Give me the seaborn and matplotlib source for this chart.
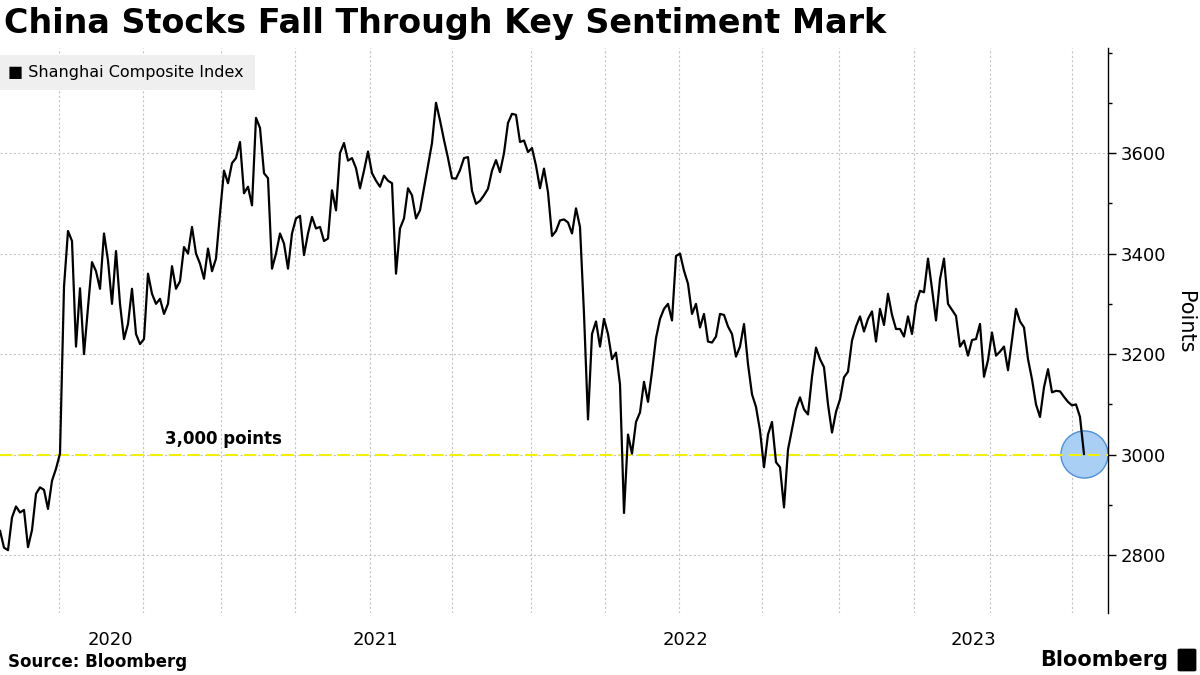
import numpy as np
import pandas as pd
import matplotlib
matplotlib.use('Agg')
import matplotlib.pyplot as plt
from matplotlib.patches import Rectangle, FancyBboxPatch
import seaborn as sns

# Shanghai Composite Index close, every 3rd trading session
# (late Apr 2020 -> Oct 2023)
index_values = [
    2849, 2815, 2810, 2875, 2897, 2885, 2890, 2816, 2850, 2922,
    2935, 2930, 2892, 2948, 2972, 3002, 3334, 3445, 3425, 3215,
    3331, 3200, 3293, 3383, 3365, 3330, 3440, 3386, 3300, 3405,
    3300, 3230, 3260, 3330, 3240, 3220, 3230, 3360, 3320, 3300,
    3310, 3280, 3300, 3375, 3330, 3345, 3413, 3400, 3453, 3400,
    3380, 3350, 3410, 3365, 3390, 3480, 3565, 3540, 3580, 3590,
    3622, 3520, 3533, 3496, 3670, 3650, 3560, 3550, 3370, 3400,
    3440, 3420, 3370, 3440, 3470, 3475, 3397, 3440, 3473, 3450,
    3453, 3425, 3430, 3526, 3486, 3600, 3620, 3585, 3590, 3570,
    3530, 3565, 3603, 3560, 3545, 3533, 3555, 3545, 3540, 3360,
    3450, 3470, 3530, 3516, 3470, 3486, 3530, 3575, 3620, 3700,
    3665, 3626, 3590, 3550, 3549, 3566, 3590, 3592, 3525, 3499,
    3505, 3516, 3529, 3565, 3586, 3562, 3600, 3660, 3678, 3676,
    3622, 3625, 3602, 3610, 3575, 3530, 3569, 3522, 3435, 3445,
    3466, 3468, 3462, 3440, 3490, 3453, 3280, 3070, 3240, 3265,
    3215, 3270, 3240, 3190, 3203, 3140, 2884, 3040, 3002, 3065,
    3084, 3145, 3105, 3165, 3232, 3270, 3290, 3300, 3267, 3395,
    3400, 3366, 3340, 3280, 3300, 3253, 3280, 3225, 3223, 3235,
    3280, 3278, 3255, 3240, 3195, 3215, 3260, 3180, 3120, 3095,
    3048, 2975, 3040, 3065, 2985, 2975, 2895, 3010, 3050, 3091,
    3114, 3090, 3080, 3155, 3213, 3190, 3174, 3100, 3044, 3085,
    3110, 3154, 3165, 3227, 3255, 3275, 3245, 3270, 3285, 3225,
    3290, 3258, 3320, 3278, 3250, 3250, 3235, 3275, 3240, 3300,
    3326, 3323, 3390, 3330, 3267, 3349, 3390, 3300, 3288, 3276,
    3215, 3227, 3197, 3228, 3230, 3260, 3155, 3188, 3243, 3197,
    3205, 3215, 3168, 3228, 3290, 3265, 3253, 3190, 3150, 3100,
    3075, 3134, 3170, 3124, 3127, 3126, 3115, 3105, 3098, 3100,
    3075, 3001,
]
SESSION_STEP = 3

# session positions of quarter starts, Jul 2020 .. Oct 2023
quarter_starts = [44.5, 107.5, 165.5, 221.25, 277.7, 339.2, 398.0,
                  453.4, 509.5, 571.7, 629.5, 685.7, 742.7, 803.8]
year_labels = ['2020', '2021', '2022', '2023']
year_starts = [165.5, 398.0, 629.5]   # Jan 2021, Jan 2022, Jan 2023
x_range = (0, 831)
y_range = (2685, 3809)

y_ticks = [2800, 3000, 3200, 3400, 3600]
y_minor = [2900, 3100, 3300, 3500, 3700, 3800]
threshold = 3000
threshold_label = '3,000 points'

df = pd.DataFrame({
    'session': np.arange(len(index_values)) * SESSION_STEP,
    'close': index_values,
})

sns.set_theme(style='white')
plt.rcParams['font.family'] = ['DejaVu Sans']
plt.rcParams['text.color'] = 'black'

fig = plt.figure(figsize=(12, 6.75), dpi=100)
ax = fig.add_axes([0, 62 / 675, 1108 / 1200, 565 / 675])

grid_kw = dict(color='#c4c4c4', lw=0.8, ls=(0, (2, 2)))

# threshold line + marker circle at the last close
ax.axhline(threshold, color='#f0f000', lw=1.5, ls=(0, (6, 3)), zorder=3)
ax.scatter([df['session'].iloc[-1]], [df['close'].iloc[-1]], s=1150,
           facecolor='#a9cff5', edgecolor='#4d90dc', linewidth=1.0, zorder=2)

sns.lineplot(data=df, x='session', y='close', color='black', lw=1.6,
             ax=ax, zorder=4)

ax.text(124, threshold + 32, threshold_label, fontsize=12,
        fontweight='bold', va='center', ha='left', zorder=5, color='black')

ax.set_xlim(*x_range)
ax.set_ylim(*y_range)

# quarter gridlines, year labels centred on each year's span
ax.set_xticks(quarter_starts)
ax.set_xticklabels([])
edges = [x_range[0]] + year_starts + [x_range[1]]
mids = [(a + b) / 2 for a, b in zip(edges[:-1], edges[1:])]
ax.set_xticks(mids, minor=True)
ax.set_xticklabels(year_labels, minor=True)
ax.tick_params(axis='x', which='both', length=0)
ax.tick_params(axis='x', which='minor', pad=13, labelsize=13, colors='black')
ax.xaxis.grid(True, which='major', **grid_kw)

ax.yaxis.tick_right()
ax.set_yticks(y_ticks)
ax.set_yticks(y_minor, minor=True)
ax.tick_params(axis='y', which='major', length=6, width=1, pad=3,
               labelsize=13, colors='black', direction='out')
ax.tick_params(axis='y', which='minor', length=3, width=1, direction='out',
               colors='black')
ax.yaxis.grid(True, which='major', **grid_kw)

ax.set_xlabel('')
ax.set_ylabel('')
for side in ['left', 'top', 'bottom']:
    ax.spines[side].set_visible(False)
ax.spines['right'].set_color('black')
ax.spines['right'].set_linewidth(1)
ax.set_facecolor('white')

fig.text(1185 / 1200, 1 - 322 / 675, 'Points', rotation=270,
         ha='center', va='center', fontsize=15, color='black')

# title
fig.text(4 / 1200, 1 - 24 / 675, 'China Stocks Fall Through Key Sentiment Mark',
         fontsize=24, fontweight='bold', va='center', ha='left', color='black')

# legend chip
fig.patches.append(Rectangle((0, 1 - 90 / 675), 255 / 1200, 35 / 675,
                             transform=fig.transFigure, facecolor='#efefef',
                             edgecolor='none'))
fig.text(8 / 1200, 1 - 72.5 / 675, '\u25a0 Shanghai Composite Index',
         fontsize=11.5, va='center', ha='left', color='black')

# footer
fig.text(8 / 1200, 1 - 662 / 675, 'Source: Bloomberg', fontsize=12,
         fontweight='bold', va='center', ha='left', color='black')
fig.text(1168 / 1200, 1 - 660 / 675, 'Bloomberg', fontsize=15,
         fontweight='bold', va='center', ha='right', color='black')
fig.patches.append(FancyBboxPatch((1180 / 1200, 1 - 670 / 675), 14 / 1200, 20 / 675,
                                  boxstyle='round,pad=0.002',
                                  transform=fig.transFigure,
                                  facecolor='black', edgecolor='none'))

fig.savefig('out.png', dpi=100)
